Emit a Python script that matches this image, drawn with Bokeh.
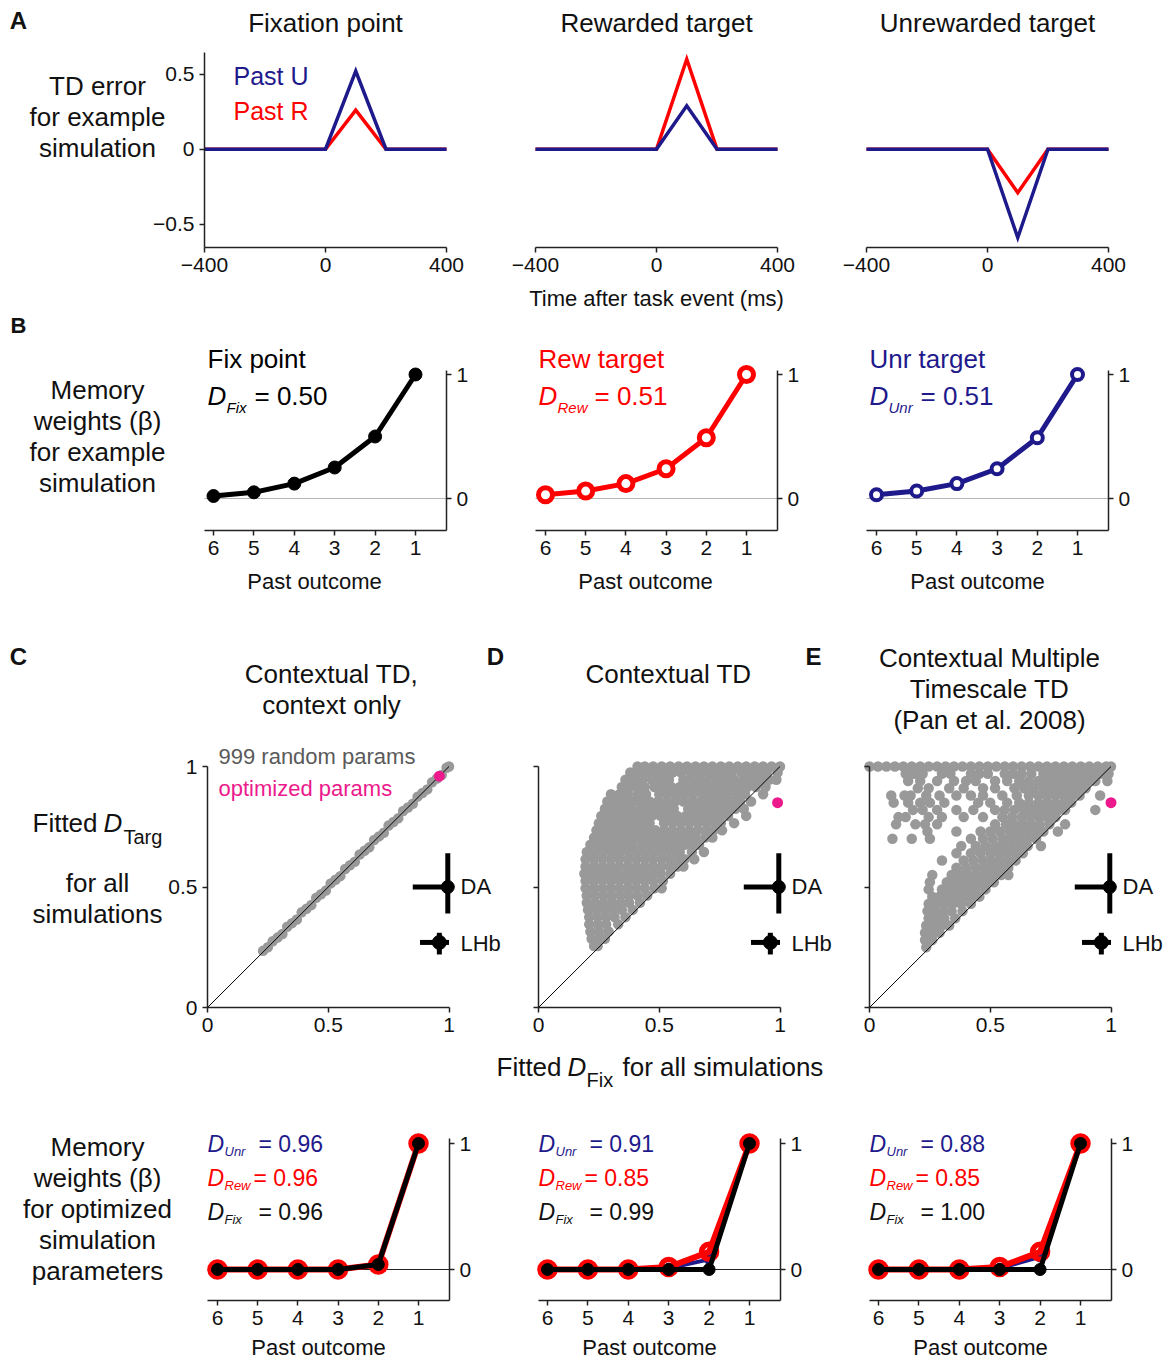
from bokeh.plotting import figure
from bokeh.layouts import row, column
from bokeh.models import Range1d, Label, FixedTicker, LinearAxis
from bokeh.embed import file_html
from bokeh.resources import INLINE
from bokeh.core.validation import silence
from bokeh.core.validation.warnings import MISSING_RENDERERS

silence(MISSING_RENDERERS, True)

FONT = "Liberation Sans"
NAVY = "#1f1a8c"
RED = "#ff0000"
PINK = "#ec1a8c"
GRAY = "#999999"
AXC = "#222222"

# ---------------- data: A (TD error) ----------------
time_ms = [-400, 0, 100, 200, 400]
td_fix_pastU = [0, 0, 0.52, 0, 0]
td_fix_pastR = [0, 0, 0.26, 0, 0]
td_rew_pastU = [0, 0, 0.29, 0, 0]
td_rew_pastR = [0, 0, 0.60, 0, 0]
td_unr_pastU = [0, 0, -0.59, 0, 0]
td_unr_pastR = [0, 0, -0.29, 0, 0]
time_ticks = [-400, 0, 400]
td_ticks = [-0.5, 0, 0.5]

# ---------------- data: B (example memory weights) ----------------
past_outcome = [6, 5, 4, 3, 2, 1]
beta_fix = [0.02, 0.05, 0.12, 0.25, 0.50, 1.00]
beta_rew = [0.03, 0.06, 0.12, 0.24, 0.49, 1.00]
beta_unr = [0.03, 0.06, 0.12, 0.24, 0.49, 1.00]
D_example = ["0.50", "0.51", "0.51"]      # Fix, Rew, Unr
beta_ticks = [0, 1]

# ---------------- data: C/D/E scatter ----------------
diag = [0, 1]
unit_ticks = [0, 0.5, 1]
C_fix = [0.23, 0.25, 0.27, 0.29, 0.31, 0.33, 0.35, 0.37, 0.39, 0.41, 0.43, 0.45, 0.47, 0.49,
         0.51, 0.53, 0.55, 0.57, 0.59, 0.61, 0.63, 0.65, 0.67, 0.69, 0.71, 0.73, 0.75, 0.77,
         0.79, 0.81, 0.83, 0.85, 0.87, 0.89, 0.91, 0.93, 0.95, 0.97, 0.99, 1.0]
C_targ = [0.235, 0.25, 0.275, 0.29, 0.305, 0.335, 0.35, 0.365, 0.395, 0.41, 0.425, 0.455,
          0.47, 0.485, 0.515, 0.53, 0.545, 0.575, 0.59, 0.605, 0.635, 0.65, 0.665, 0.695,
          0.71, 0.725, 0.755, 0.77, 0.785, 0.815, 0.83, 0.845, 0.875, 0.89, 0.905, 0.935,
          0.95, 0.965, 0.995, 1.0]

D_rows = [
    (1.00, [0.41, 0.44, 0.475, 0.51, 0.545, 0.58, 0.615, 0.65, 0.685, 0.72, 0.755, 0.79, 0.825, 0.86, 0.895, 0.93, 0.965, 1.0]),
    (0.975, [0.38, 0.415, 0.45, 0.49, 0.52, 0.555, 0.59, 0.63, 0.665, 0.70, 0.735, 0.77, 0.80, 0.84, 0.875, 0.91, 0.945, 0.99]),
    (0.945, [0.36, 0.395, 0.43, 0.47, 0.505, 0.54, 0.60, 0.635, 0.67, 0.705, 0.74, 0.775, 0.81, 0.85, 0.885, 0.92, 0.955, 0.985]),
    (0.915, [0.345, 0.38, 0.415, 0.44, 0.48, 0.515, 0.55, 0.585, 0.62, 0.66, 0.695, 0.73, 0.765, 0.80, 0.83, 0.865, 0.90, 0.94]),
    (0.885, [0.30, 0.335, 0.37, 0.41, 0.445, 0.50, 0.535, 0.57, 0.605, 0.64, 0.68, 0.715, 0.75, 0.78, 0.82, 0.855, 0.93]),
    (0.855, [0.285, 0.32, 0.355, 0.39, 0.425, 0.46, 0.495, 0.53, 0.565, 0.60, 0.635, 0.67, 0.70, 0.735, 0.77, 0.80, 0.835, 0.88]),
    (0.825, [0.275, 0.31, 0.345, 0.38, 0.42, 0.455, 0.49, 0.525, 0.56, 0.62, 0.655, 0.69, 0.725, 0.76, 0.79, 0.815, 0.85]),
    (0.795, [0.26, 0.295, 0.33, 0.365, 0.40, 0.435, 0.47, 0.505, 0.54, 0.575, 0.61, 0.645, 0.68, 0.715, 0.75, 0.785, 0.86]),
    (0.765, [0.25, 0.285, 0.32, 0.355, 0.39, 0.425, 0.46, 0.52, 0.555, 0.59, 0.625, 0.66, 0.695, 0.73, 0.755, 0.81]),
    (0.735, [0.24, 0.275, 0.31, 0.345, 0.38, 0.415, 0.45, 0.485, 0.52, 0.555, 0.59, 0.625, 0.66, 0.695, 0.725, 0.76]),
    (0.705, [0.23, 0.265, 0.30, 0.335, 0.37, 0.405, 0.44, 0.475, 0.51, 0.545, 0.58, 0.615, 0.65, 0.69, 0.72]),
    (0.675, [0.215, 0.25, 0.285, 0.32, 0.355, 0.39, 0.43, 0.465, 0.50, 0.535, 0.57, 0.605, 0.64, 0.665]),
    (0.645, [0.20, 0.235, 0.27, 0.305, 0.34, 0.375, 0.41, 0.445, 0.48, 0.515, 0.55, 0.585, 0.635, 0.685]),
    (0.615, [0.195, 0.23, 0.265, 0.30, 0.335, 0.37, 0.405, 0.44, 0.475, 0.51, 0.545, 0.58, 0.605, 0.645]),
    (0.585, [0.195, 0.23, 0.265, 0.30, 0.335, 0.37, 0.405, 0.44, 0.475, 0.51, 0.545, 0.575, 0.60]),
    (0.555, [0.19, 0.225, 0.26, 0.295, 0.33, 0.365, 0.40, 0.435, 0.47, 0.505, 0.545]),
    (0.525, [0.195, 0.23, 0.265, 0.30, 0.335, 0.37, 0.405, 0.44, 0.475, 0.515]),
    (0.495, [0.195, 0.23, 0.265, 0.30, 0.335, 0.37, 0.405, 0.44, 0.48, 0.51]),
    (0.465, [0.20, 0.235, 0.27, 0.305, 0.34, 0.375, 0.41, 0.45]),
    (0.435, [0.20, 0.235, 0.27, 0.305, 0.34, 0.375, 0.42]),
    (0.405, [0.205, 0.24, 0.275, 0.31, 0.345, 0.39]),
    (0.375, [0.21, 0.245, 0.28, 0.315, 0.36]),
    (0.345, [0.21, 0.245, 0.28, 0.33]),
    (0.315, [0.215, 0.25, 0.29]),
    (0.285, [0.22, 0.255, 0.275]),
    (0.255, [0.23, 0.245]),
]

E_rows = [
    (1.00, [0.0, 0.035, 0.07, 0.105, 0.14, 0.175, 0.21, 0.245, 0.28, 0.315, 0.35, 0.385, 0.42, 0.455, 0.49, 0.525,
            0.56, 0.595, 0.63, 0.665, 0.70, 0.735, 0.77, 0.805, 0.84, 0.875, 0.91, 0.945, 0.98, 1.0]),
    (0.97, [0.15, 0.185, 0.22, 0.30, 0.335, 0.42, 0.455, 0.49, 0.56, 0.595, 0.63, 0.67, 0.72, 0.755, 0.79, 0.825, 0.86, 0.895, 0.93, 0.96, 0.99]),
    (0.94, [0.16, 0.21, 0.28, 0.35, 0.40, 0.44, 0.52, 0.57, 0.62, 0.66, 0.70, 0.735, 0.77, 0.805, 0.84, 0.875, 0.91, 0.935, 0.985]),
    (0.91, [0.20, 0.245, 0.33, 0.39, 0.47, 0.52, 0.60, 0.64, 0.68, 0.72, 0.755, 0.79, 0.825, 0.86, 0.895]),
    (0.88, [0.09, 0.145, 0.17, 0.235, 0.29, 0.36, 0.42, 0.47, 0.55, 0.61, 0.66, 0.70, 0.735, 0.77, 0.805, 0.84, 0.87, 0.955]),
    (0.85, [0.10, 0.16, 0.21, 0.25, 0.31, 0.45, 0.50, 0.57, 0.62, 0.66, 0.70, 0.735, 0.77, 0.805, 0.835]),
    (0.82, [0.18, 0.22, 0.28, 0.36, 0.43, 0.52, 0.56, 0.60, 0.64, 0.68, 0.715, 0.75, 0.785, 0.81, 0.935]),
    (0.79, [0.12, 0.15, 0.245, 0.30, 0.39, 0.47, 0.55, 0.59, 0.63, 0.665, 0.70, 0.735, 0.77]),
    (0.76, [0.11, 0.19, 0.23, 0.28, 0.52, 0.565, 0.60, 0.635, 0.67, 0.705, 0.745, 0.81]),
    (0.73, [0.24, 0.36, 0.46, 0.50, 0.54, 0.58, 0.615, 0.65, 0.685, 0.72, 0.78]),
    (0.70, [0.095, 0.175, 0.25, 0.42, 0.47, 0.51, 0.55, 0.585, 0.62, 0.655, 0.69]),
    (0.67, [0.38, 0.44, 0.48, 0.52, 0.555, 0.59, 0.625, 0.655, 0.71]),
    (0.64, [0.36, 0.42, 0.46, 0.50, 0.535, 0.57, 0.605, 0.635]),
    (0.61, [0.30, 0.39, 0.43, 0.47, 0.505, 0.54, 0.575, 0.605]),
    (0.58, [0.36, 0.40, 0.44, 0.475, 0.51, 0.545, 0.575]),
    (0.55, [0.26, 0.34, 0.375, 0.41, 0.445, 0.48, 0.515, 0.545, 0.575]),
    (0.52, [0.25, 0.32, 0.355, 0.39, 0.425, 0.46, 0.495, 0.515]),
    (0.49, [0.245, 0.30, 0.335, 0.37, 0.405, 0.44, 0.48]),
    (0.46, [0.26, 0.29, 0.325, 0.36, 0.395, 0.43, 0.455]),
    (0.43, [0.245, 0.275, 0.31, 0.345, 0.38, 0.42]),
    (0.40, [0.24, 0.27, 0.305, 0.34, 0.385]),
    (0.37, [0.245, 0.275, 0.31, 0.355]),
    (0.34, [0.235, 0.27, 0.30, 0.33]),
    (0.31, [0.23, 0.26, 0.29]),
    (0.28, [0.23, 0.26]),
    (0.25, [0.235]),
]

opt_C = (0.96, 0.96)
opt_D = (0.99, 0.85)
opt_E = (1.00, 0.85)

# neuron data (DA, LHb): centre, x-interval, y-interval
DA_pt = (0.995, 0.50)
DA_xint = (0.85, 1.0)
DA_yint = (0.39, 0.64)
LHb_pt = (0.96, 0.27)
LHb_xint = (0.88, 1.0)
LHb_yint = (0.22, 0.31)

# ---------------- data: optimized memory weights ----------------
optC_unr = [0, 0, 0, 0, 0.04, 1.0]
optC_rew = [0, 0, 0, 0, 0.04, 1.0]
optC_fix = [0, 0, 0, 0, 0.04, 1.0]
optD_unr = [0, 0, 0, 0.01, 0.08, 1.0]
optD_rew = [0, 0, 0, 0.02, 0.14, 1.0]
optD_fix = [0, 0, 0, 0, 0, 1.0]
optE_unr = [0, 0, 0, 0.01, 0.10, 1.0]
optE_rew = [0, 0, 0, 0.02, 0.14, 1.0]
optE_fix = [0, 0, 0, 0, 0, 1.0]
D_opt = [["0.96", "0.96", "0.96"], ["0.91", "0.85", "0.99"], ["0.88", "0.85", "1.00"]]  # Unr, Rew, Fix


# ---------------- helpers ----------------
def lin(c):
    s1, v1, s2, v2 = c
    return lambda s: v1 + (s - s1) * (v2 - v1) / (s2 - s1)


def mk(box, xcal, ycal):
    X0, Y0, X1, Y1 = box
    fx, fy = lin(xcal), lin(ycal)
    p = figure(width=X1 - X0, height=Y1 - Y0,
               x_range=Range1d(fx(X0), fx(X1)), y_range=Range1d(fy(Y1), fy(Y0)),
               x_axis_location=None, y_axis_location=None,
               min_border_left=0, min_border_right=0, min_border_top=0, min_border_bottom=0,
               output_backend="svg", toolbar_location=None)
    p.outline_line_color = None
    p.xgrid.visible = False
    p.ygrid.visible = False
    p.background_fill_color = "white"
    p.border_fill_color = "white"
    return p, fx, fy


def add_axis(p, side, fixed, bounds, ticks, overrides=None, size=21):
    ax = LinearAxis(fixed_location=fixed, bounds=(min(bounds), max(bounds)))
    ax.ticker = FixedTicker(ticks=ticks)
    ax.major_tick_out = 5
    ax.major_tick_in = 0
    ax.minor_tick_line_color = None
    ax.axis_line_color = AXC
    ax.axis_line_width = 1.5
    ax.major_tick_line_color = AXC
    ax.major_tick_line_width = 1.5
    ax.major_label_text_font = FONT
    ax.major_label_text_font_size = f"{size}px"
    ax.major_label_text_color = "#111111"
    ax.major_label_standoff = 5
    if overrides is not None:
        ax.major_label_overrides = overrides
    p.add_layout(ax, side)
    return ax


def lab(p, fx, fy, sx, sy, text, size=26, color="#111111", align="left", style="normal"):
    p.add_layout(Label(x=fx(sx), y=fy(sy), text=text, text_align=align, text_baseline="middle",
                       text_font=FONT, text_font_size=f"{size}px", text_color=color,
                       text_font_style=style))


def dexpr(p, fx, fy, sx, sy, sub, val, color, size, subsize, subdx, eqdx, subdy=12):
    lab(p, fx, fy, sx, sy, "D", size, color, style="italic")
    lab(p, fx, fy, sx + subdx, sy + subdy, sub, subsize, color, style="italic")
    lab(p, fx, fy, sx + eqdx, sy, "= " + val, size, color)


# ================= Row A =================
A_time_over = {-400: "\u2212400", 0: "0", 400: "400"}
A_td_over = {-0.5: "\u22120.5", 0: "0", 0.5: "0.5"}
rowA_specs = [
    ((0, 0, 490, 311), 204, td_fix_pastU, td_fix_pastR, "Fixation point"),
    ((490, 0, 821, 311), 535, td_rew_pastU, td_rew_pastR, "Rewarded target"),
    ((821, 0, 1166, 311), 866, td_unr_pastU, td_unr_pastR, "Unrewarded target"),
]
rowA = []
for i, (box, x0, yU, yR, title) in enumerate(rowA_specs):
    p, fx, fy = mk(box, (x0, -400, x0 + 242, 400), (148.7, 0, 73.7, 0.5))
    add_axis(p, "below", fy(247), (-400, 400), time_ticks, A_time_over)
    if i == 0:
        add_axis(p, "left", -400, (fy(247), fy(52)), td_ticks, A_td_over)
    p.line(time_ms, yR, line_width=3.5, color=RED, line_join="miter")
    p.line(time_ms, yU, line_width=3.5, color=NAVY, line_join="miter")
    lab(p, fx, fy, x0 + 121, 22, title, 26, align="center")
    if i == 0:
        lab(p, fx, fy, 18, 20, "A", 24, style="bold", align="center")
        for k, t in enumerate(["TD error", "for example", "simulation"]):
            lab(p, fx, fy, 97, 85 + 31 * k, t, 26, align="center")
        lab(p, fx, fy, 233, 75, "Past U", 25, NAVY)
        lab(p, fx, fy, 233, 110, "Past R", 25, RED)
    if i == 1:
        lab(p, fx, fy, 656, 298, "Time after task event (ms)", 22, align="center")
    rowA.append(p)

# ================= Row B =================
rowB_specs = [
    ((0, 311, 490, 606), (204, 446), (213, 6, 415, 1), beta_fix, "black", "Fix point", "Fix", 0),
    ((490, 311, 821, 606), (535, 777), (545, 6, 746, 1), beta_rew, RED, "Rew target", "Rew", 1),
    ((821, 311, 1166, 606), (866, 1108), (876, 6, 1077, 1), beta_unr, NAVY, "Unr target", "Unr", 2),
]
rowB = []
for box, (l, r), xcal, beta, col, title, sub, i in rowB_specs:
    p, fx, fy = mk(box, xcal, (498, 0, 374, 1))
    xb = (fx(l), fx(r))
    add_axis(p, "below", fy(530), xb, past_outcome)
    add_axis(p, "right", fx(r), (fy(530), fy(370)), beta_ticks, {0: "0", 1: "1"})
    p.segment(x0=[xb[0]], y0=[0], x1=[xb[1]], y1=[0], line_color="#b4b4b4", line_width=1.2)
    p.line(past_outcome, beta, line_width=5, color=col, line_join="round")
    if i == 0:
        p.scatter(past_outcome, beta, size=13, fill_color=col, line_color=col)
    elif i == 1:
        p.scatter(past_outcome, beta, size=14, fill_color="white", line_color=col, line_width=5)
    else:
        p.scatter(past_outcome, beta, size=11, fill_color="white", line_color=col, line_width=4)
    xl = l + 3
    lab(p, fx, fy, xl, 358, title, 26, col)
    dexpr(p, fx, fy, xl, 395, sub, D_example[i], col, 26, 15, 19, 47 if i == 0 else (56 if i == 1 else 51))
    lab(p, fx, fy, l + 110 + (1 if i == 2 else 0), 581, "Past outcome", 22, align="center")
    if i == 0:
        lab(p, fx, fy, 18, 325, "B", 22, style="bold", align="center")
        for k, t in enumerate(["Memory", "weights (\u03b2)", "for example", "simulation"]):
            lab(p, fx, fy, 97, 389 + 31 * k, t, 26, align="center")
    rowB.append(p)

# ================= Row C / D / E =================
def flatten(rows):
    xs, ys = [], []
    for y, xl in rows:
        for x in xl:
            xs.append(x)
            ys.append(y)
    return xs, ys


D_x, D_y = flatten(D_rows)
E_x, E_y = flatten(E_rows)
unit_over = {0: "0", 0.5: "0.5", 1: "1"}
rowC_specs = [
    ((0, 606, 505, 1048), 207, C_fix, C_targ, opt_C, 0),
    ((505, 606, 833, 1048), 538, D_x, D_y, opt_D, 1),
    ((833, 606, 1166, 1048), 869, E_x, E_y, opt_E, 2),
]
rowC = []
for box, x0, sx_, sy_, opt, i in rowC_specs:
    p, fx, fy = mk(box, (x0, 0, x0 + 241.5, 1), (1007, 0, 766, 1))
    add_axis(p, "below", 0, (0, 1), unit_ticks, unit_over)
    add_axis(p, "left", 0, (0, 1), unit_ticks, unit_over if i == 0 else {0: "", 0.5: "", 1: ""})
    p.scatter(sx_, sy_, size=10.5, fill_color=GRAY, line_color=None)
    p.line(diag, diag, line_color="black", line_width=1)
    p.scatter([opt[0]], [opt[1]], size=11, fill_color=PINK, line_color=None)
    # DA / LHb
    p.segment([DA_xint[0], DA_pt[0]], [DA_pt[1], DA_yint[0]], [DA_xint[1], DA_pt[0]], [DA_pt[1], DA_yint[1]],
              line_color="black", line_width=5)
    p.scatter([DA_pt[0]], [DA_pt[1]], size=13, fill_color="black", line_color="black")
    p.segment([LHb_xint[0], LHb_pt[0]], [LHb_pt[1], LHb_yint[0]], [LHb_xint[1], LHb_pt[0]], [LHb_pt[1], LHb_yint[1]],
              line_color="black", line_width=5)
    p.scatter([LHb_pt[0]], [LHb_pt[1]], size=14, fill_color="black", line_color="black")
    lab(p, fx, fy, x0 + 253, 886, "DA", 22)
    lab(p, fx, fy, x0 + 253, 943, "LHb", 22)
    if i == 0:
        lab(p, fx, fy, 18, 656, "C", 24, style="bold", align="center")
        lab(p, fx, fy, 495, 656, "D", 24, style="bold", align="center")
        lab(p, fx, fy, 331, 673, "Contextual TD,", 26, align="center")
        lab(p, fx, fy, 331, 704, "context only", 26, align="center")
        lab(p, fx, fy, 218, 756, "999 random params", 22, "#5a5a5a")
        lab(p, fx, fy, 218, 788, "optimized params", 22, PINK)
        lab(p, fx, fy, 32, 822, "Fitted", 26)
        lab(p, fx, fy, 103, 822, "D", 26, style="italic")
        lab(p, fx, fy, 123, 836, "Targ", 20)
        lab(p, fx, fy, 97, 882, "for all", 26, align="center")
        lab(p, fx, fy, 97, 913, "simulations", 26, align="center")
    elif i == 1:
        lab(p, fx, fy, 813, 656, "E", 24, style="bold", align="center")
        lab(p, fx, fy, 668, 673, "Contextual TD", 26, align="center")
    else:
        lab(p, fx, fy, 989, 657, "Contextual Multiple", 26, align="center")
        lab(p, fx, fy, 989, 688, "Timescale TD", 26, align="center")
        lab(p, fx, fy, 989, 719, "(Pan et al. 2008)", 26, align="center")
    rowC.append(p)

# x label strip under C/D/E
tx, ix, iy = mk((0, 1048, 1166, 1092), (0, 0, 1, 1), (0, 0, 1, 1))
lab(tx, ix, iy, 496, 1066, "Fitted", 26)
lab(tx, ix, iy, 567, 1066, "D", 26, style="italic")
lab(tx, ix, iy, 586, 1079, "Fix", 20)
lab(tx, ix, iy, 622, 1066, "for all simulations", 26)

# ================= Row F (optimized) =================
rowF_specs = [
    ((0, 1092, 490, 1361), (207, 449), (217, 6, 418, 1), optC_unr, optC_rew, optC_fix, 0),
    ((490, 1092, 821, 1361), (538, 780), (547, 6, 749, 1), optD_unr, optD_rew, optD_fix, 1),
    ((821, 1092, 1166, 1361), (869, 1111), (878, 6, 1080, 1), optE_unr, optE_rew, optE_fix, 2),
]
rowF = []
for box, (l, r), xcal, yu, yr, yf, i in rowF_specs:
    p, fx, fy = mk(box, xcal, (1269, 0, 1143, 1))
    xb = (fx(l), fx(r))
    add_axis(p, "below", fy(1300), xb, past_outcome)
    add_axis(p, "right", fx(r), (fy(1300), fy(1138)), beta_ticks, {0: "0", 1: "1"})
    p.segment(x0=[xb[0]], y0=[0], x1=[xb[1]], y1=[0], line_color="#222222", line_width=1.2)
    p.line(past_outcome, yu, line_width=4, color=NAVY, line_join="round")
    p.scatter(past_outcome, yu, size=10, fill_color=NAVY, line_color=NAVY)
    p.line(past_outcome, yr, line_width=6, color=RED, line_join="round")
    p.scatter(past_outcome, yr, size=15, fill_color=None, line_color=RED, line_width=5.5)
    p.line(past_outcome, yf, line_width=5, color="black", line_join="round")
    p.scatter(past_outcome, yf, size=12, fill_color="black", line_color="black")
    vals = D_opt[i]
    dexpr(p, fx, fy, l, 1143, "Unr", vals[0], NAVY, 23, 13, 17, 51, 8)
    dexpr(p, fx, fy, l, 1177, "Rew", vals[1], RED, 23, 13, 17, 46, 8)
    dexpr(p, fx, fy, l, 1211, "Fix", vals[2], "#111111", 23, 13, 17, 51, 8)
    lab(p, fx, fy, l + 111, 1347, "Past outcome", 22, align="center")
    if i == 0:
        for k, t in enumerate(["Memory", "weights (\u03b2)", "for optimized", "simulation", "parameters"]):
            lab(p, fx, fy, 97, 1146 + 31 * k, t, 26, align="center")
    rowF.append(p)

layout = column(row(*rowA, spacing=0), row(*rowB, spacing=0), row(*rowC, spacing=0), tx,
                row(*rowF, spacing=0), spacing=0)

open("out.html", "w").write(file_html(layout, INLINE))
